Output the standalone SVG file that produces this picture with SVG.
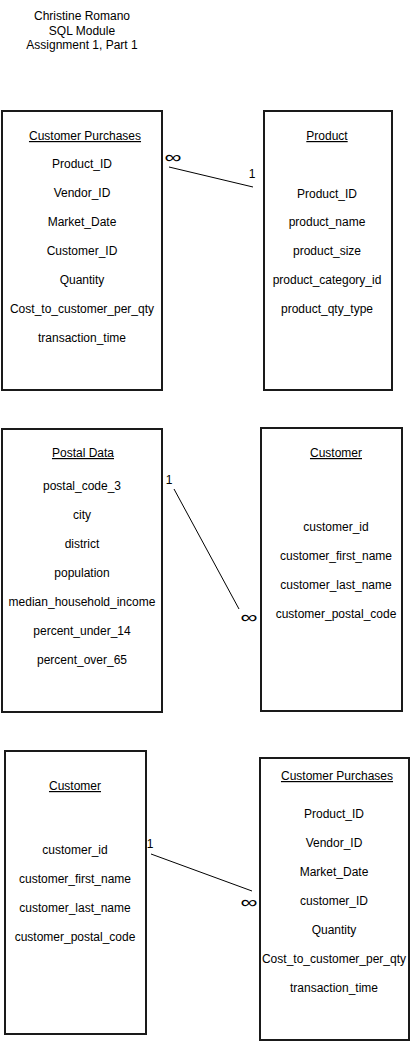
<svg xmlns="http://www.w3.org/2000/svg" width="410" height="1041" viewBox="0 0 410 1041">
<style>
.box{fill:#fff;stroke:#1a1a1a;stroke-width:2}
text{font-family:"Liberation Sans",Arial,sans-serif;font-size:12px;fill:#000;text-anchor:middle}
.h{text-decoration:underline}
.conn line{stroke:#000;stroke-width:1}
.inf{font-family:"DejaVu Sans",sans-serif;font-size:17px;font-weight:200;text-anchor:middle}
.one{text-anchor:middle}
</style>
<rect width="410" height="1041" fill="#fff"/>
<g id="title">
<text x="82" y="20">Christine Romano</text>
<text x="82" y="35">SQL Module</text>
<text x="82" y="49">Assignment 1, Part 1</text>
</g>
<g id="cp1">
<rect class="box" x="2" y="111" width="160" height="279"/>
<text class="h" x="85" y="140">Customer Purchases</text>
<text x="82" y="168">Product_ID</text>
<text x="82" y="197">Vendor_ID</text>
<text x="82" y="226">Market_Date</text>
<text x="82" y="255">Customer_ID</text>
<text x="82" y="284">Quantity</text>
<text x="82" y="313">Cost_to_customer_per_qty</text>
<text x="82" y="342">transaction_time</text>
</g>
<g id="product">
<rect class="box" x="264" y="111" width="128" height="279"/>
<text class="h" x="327" y="140">Product</text>
<text x="327" y="198">Product_ID</text>
<text x="327" y="226">product_name</text>
<text x="327" y="255">product_size</text>
<text x="327" y="284">product_category_id</text>
<text x="327" y="313">product_qty_type</text>
</g>
<g id="postal">
<rect class="box" x="2" y="429" width="160" height="283"/>
<text class="h" x="83" y="457">Postal Data</text>
<text x="82" y="490">postal_code_3</text>
<text x="82" y="519">city</text>
<text x="82" y="548">district</text>
<text x="82" y="577">population</text>
<text x="82" y="606">median_household_income</text>
<text x="82" y="635">percent_under_14</text>
<text x="82" y="664">percent_over_65</text>
</g>
<g id="customer1">
<rect class="box" x="261" y="428" width="141" height="283"/>
<text class="h" x="336" y="457">Customer</text>
<text x="336" y="531">customer_id</text>
<text x="336" y="560">customer_first_name</text>
<text x="336" y="589">customer_last_name</text>
<text x="336" y="618">customer_postal_code</text>
</g>
<g id="customer2">
<rect class="box" x="5" y="751" width="141" height="283"/>
<text class="h" x="75" y="790">Customer</text>
<text x="75" y="854">customer_id</text>
<text x="75" y="883">customer_first_name</text>
<text x="75" y="912">customer_last_name</text>
<text x="75" y="941">customer_postal_code</text>
</g>
<g id="cp2">
<rect class="box" x="260" y="758" width="149" height="282"/>
<text class="h" x="337" y="780">Customer Purchases</text>
<text x="334" y="818">Product_ID</text>
<text x="334" y="847">Vendor_ID</text>
<text x="334" y="876">Market_Date</text>
<text x="334" y="905">customer_ID</text>
<text x="334" y="934">Quantity</text>
<text x="334" y="963">Cost_to_customer_per_qty</text>
<text x="334" y="992">transaction_time</text>
</g>
<g id="connectors" class="conn">
<line x1="169" y1="167" x2="253" y2="187"/>
<text class="inf" x="173" y="163" textLength="17" lengthAdjust="spacingAndGlyphs">∞</text>
<text class="one" x="252" y="178">1</text>
<line x1="174" y1="489" x2="239" y2="609"/>
<text class="one" x="169" y="484">1</text>
<text class="inf" x="249" y="623" textLength="17" lengthAdjust="spacingAndGlyphs">∞</text>
<line x1="151" y1="854" x2="252" y2="891"/>
<text class="one" x="150" y="848">1</text>
<text class="inf" x="249" y="908" textLength="17" lengthAdjust="spacingAndGlyphs">∞</text>
</g>
</svg>
